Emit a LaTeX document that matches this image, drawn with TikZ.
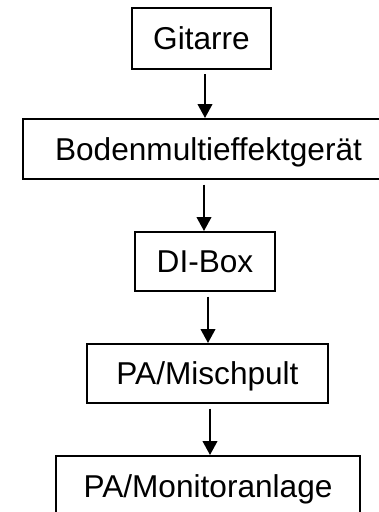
\documentclass[tikz,border=0pt]{standalone}
\usepackage{fontspec}
\setmainfont{Liberation Sans}
\usetikzlibrary{arrows.meta}
\begin{document}
\begin{tikzpicture}[x=0.75pt, y=-0.75pt,
  box/.style={draw, line width=1.5pt, inner sep=0pt, fill=white,
    font=\fontsize{23.7}{28}\selectfont, text height=17pt, text depth=0pt},
  arr/.style={line width=1.5pt, -{Triangle[length=10.5pt, width=11pt]}}]
  \useasboundingbox (0,0) rectangle (379,512);
  \clip (0,0) rectangle (379,512);
  % signal chain, top to bottom
  \node[box, minimum width=104.25pt, minimum height=45.75pt] (g) at (201.5,38.5) {Gitarre};
  \node[box, minimum width=278.25pt, minimum height=45pt] (b) at (208.5,149) {Bodenmultieffektgerät};
  \node[box, minimum width=105pt, minimum height=44.25pt] (d) at (205,261.5) {DI-Box};
  \node[box, minimum width=180.75pt, minimum height=44.25pt] (m) at (207.5,373.5) {PA/Mischpult};
  \node[box, minimum width=228pt, minimum height=45pt] (p) at (208,486) {PA/Monitoranlage};
  % connectors
  \draw[arr] ([yshift=-3pt]g.south -| 205,0) -- (b.north -| 205,0);
  \draw[arr] ([yshift=-3.5pt]b.south -| 204,0) -- (d.north -| 204,0);
  \draw[arr] ([yshift=-3.5pt]d.south -| 208,0) -- (m.north -| 208,0);
  \draw[arr] ([yshift=-3.5pt]m.south -| 210,0) -- (p.north -| 210,0);
\end{tikzpicture}
\end{document}
